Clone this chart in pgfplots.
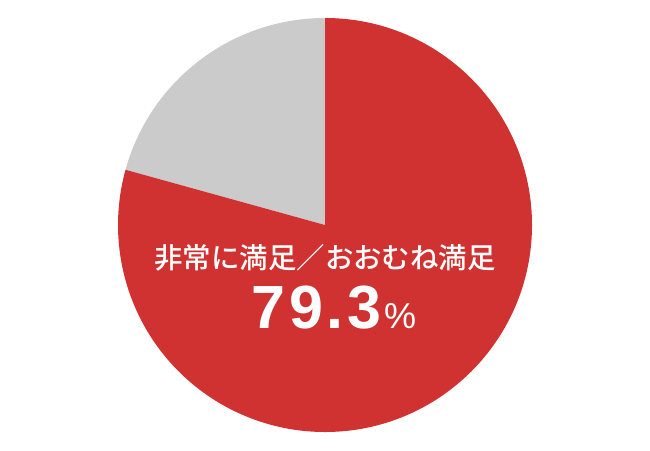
\documentclass[border=0pt]{standalone}
\usepackage{pgfplots}
\pgfplotsset{compat=1.18}
\usepackage{pgfplotstable}
\usepackage{fontspec}
\setmainfont{Liberation Sans}
\newfontfamily\numfont[LetterSpace=6]{Liberation Sans}
\newfontfamily\jp{Noto Sans CJK JP Medium}

\definecolor{piered}{HTML}{D03232}
\definecolor{piegray}{HTML}{CBCBCB}

% share of answers, in percent
\pgfplotstableread{
label value
satisfied 79.3
other 20.7
}\piedata

\begin{document}
\begin{tikzpicture}
\useasboundingbox (0,0) rectangle (13cm,9cm);
\pgfplotstablegetelem{0}{value}\of\piedata
\let\va\pgfplotsretval
\pgfmathsetmacro\ea{90-3.6*\va}
\begin{axis}[
    at={(6.5cm,4.5cm)}, anchor=center,
    scale only axis,
    width=8.28cm, height=8.28cm,
    xmin=-1, xmax=1, ymin=-1, ymax=1,
    hide axis, clip=false,
]
\addplot[draw=none] coordinates {(-1,-1)(1,1)};
% gray slice, then red slice clockwise from the top
\fill[piegray] (axis cs:0,0) -- (axis cs:0,1) arc[start angle=90, end angle=\ea+360, radius=4.14cm] -- cycle;
\fill[piered] (axis cs:0,0) -- (axis cs:0,1) arc[start angle=90, end angle=\ea, radius=4.14cm] -- cycle;
\node[text=white, font=\jp\fontsize{16.2pt}{18pt}\selectfont, anchor=center]
    at (axis cs:0,-0.16) {非常に満足／おおむね満足};
\node[text=white, anchor=base, inner sep=0pt]
    at (axis cs:0.043,-0.502) {{\numfont\bfseries\fontsize{34.7pt}{36pt}\selectfont \va}\hspace{1.5pt}{\numfont\fontsize{20.5pt}{22pt}\selectfont\%}};
\end{axis}
\end{tikzpicture}
\end{document}
